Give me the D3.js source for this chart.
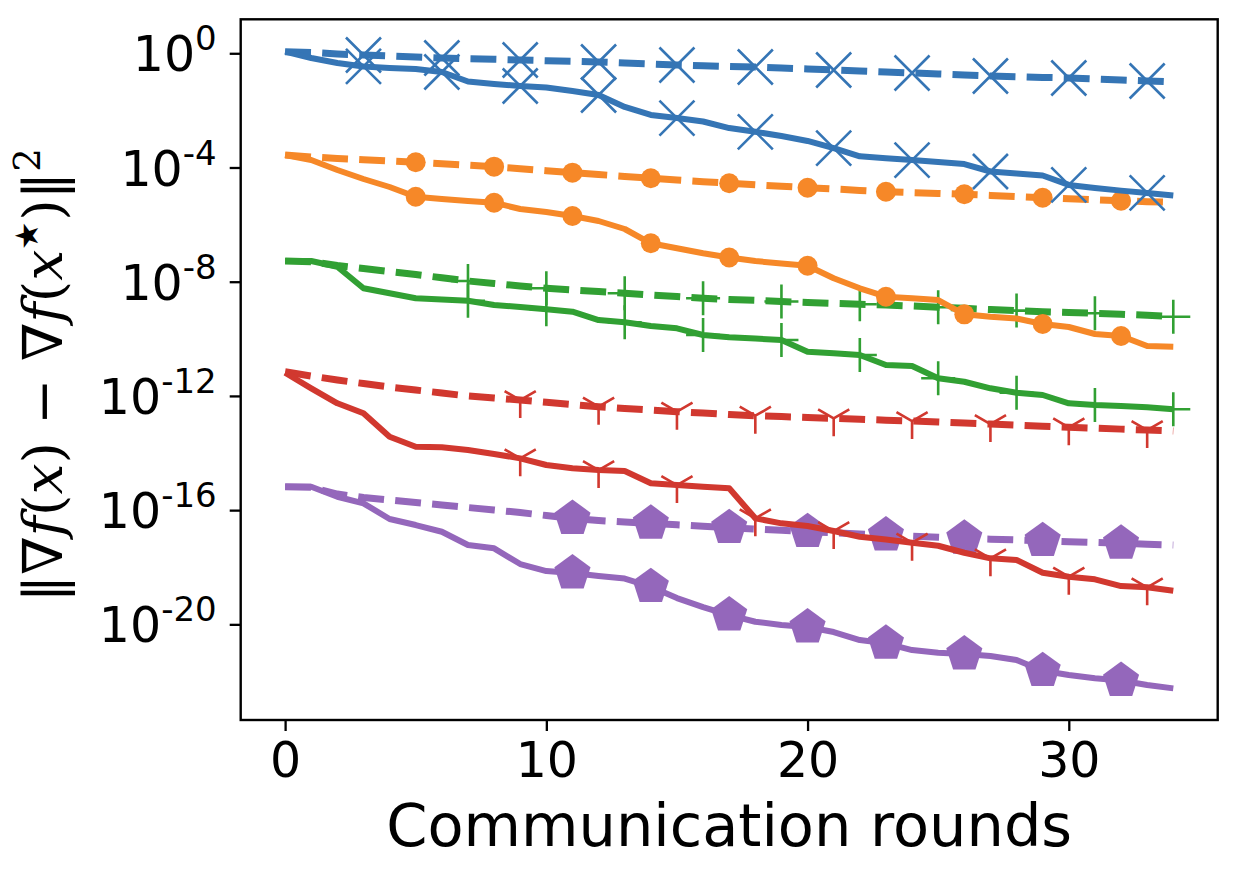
<!DOCTYPE html>
<html>
<head>
<meta charset="utf-8">
<script src="https://cdn.jsdelivr.net/npm/d3@7"></script>
<style>
  html, body { margin: 0; padding: 0; background: #fff; }
  svg { display: block; }
</style>
</head>
<body>
<svg id="chart" width="1246" height="872"></svg>
<script>
// x values: communication rounds
const rounds = d3.range(0, 35);

// log10 of ||grad f(x) - grad f(x*)||^2
const blueSolid = [0.056,-0.165,-0.34,-0.46,-0.515,-0.55,-0.655,-0.99,-1.075,-1.145,-1.2,-1.32,-1.46,-1.88,-2.16,-2.27,-2.39,-2.62,-2.75,-2.9,-3.07,-3.32,-3.61,-3.68,-3.74,-3.81,-3.88,-4.14,-4.21,-4.28,-4.61,-4.72,-4.81,-4.89,-4.98];
const blueDashed = [0.056,0.03,-0.025,-0.06,-0.095,-0.13,-0.165,-0.19,-0.21,-0.235,-0.26,-0.28,-0.305,-0.34,-0.375,-0.41,-0.435,-0.46,-0.48,-0.515,-0.55,-0.585,-0.62,-0.655,-0.69,-0.725,-0.76,-0.795,-0.82,-0.845,-0.865,-0.9,-0.935,-0.97,-1.005];
const orangeSolid = [-3.562,-3.737,-4.087,-4.403,-4.683,-5.023,-5.103,-5.173,-5.233,-5.453,-5.558,-5.699,-5.874,-6.154,-6.655,-6.83,-7.005,-7.152,-7.275,-7.363,-7.44,-7.881,-8.231,-8.525,-8.581,-8.641,-9.142,-9.226,-9.289,-9.482,-9.587,-9.832,-9.902,-10.252,-10.277];
const orangeDashed = [-3.562,-3.632,-3.685,-3.73,-3.772,-3.818,-3.87,-3.919,-3.972,-4.042,-4.112,-4.182,-4.245,-4.312,-4.378,-4.438,-4.497,-4.553,-4.606,-4.655,-4.708,-4.753,-4.802,-4.848,-4.879,-4.907,-4.939,-4.977,-5.019,-5.058,-5.093,-5.128,-5.163,-5.198,-5.219];
const greenSolid = [-7.275,-7.275,-7.475,-8.231,-8.406,-8.581,-8.623,-8.665,-8.816,-8.886,-8.967,-9.051,-9.342,-9.422,-9.552,-9.632,-9.867,-9.947,-9.989,-10.042,-10.452,-10.508,-10.567,-10.918,-10.953,-11.383,-11.503,-11.734,-11.888,-11.968,-12.259,-12.319,-12.354,-12.399,-12.469];
const greenDashed = [-7.275,-7.3,-7.433,-7.538,-7.643,-7.748,-7.863,-7.975,-8.063,-8.151,-8.231,-8.291,-8.347,-8.406,-8.466,-8.522,-8.581,-8.623,-8.655,-8.694,-8.729,-8.76,-8.788,-8.816,-8.851,-8.893,-8.932,-8.974,-9.012,-9.051,-9.079,-9.107,-9.139,-9.177,-9.226];
const redSolid = [-11.187,-11.734,-12.259,-12.609,-13.429,-13.779,-13.8,-13.895,-14.035,-14.186,-14.42,-14.536,-14.595,-14.63,-15.061,-15.121,-15.18,-15.236,-16.287,-16.462,-16.557,-16.732,-16.932,-17.03,-17.142,-17.247,-17.492,-17.688,-17.748,-18.193,-18.333,-18.424,-18.659,-18.704,-18.823];
const redDashed = [-11.152,-11.303,-11.443,-11.566,-11.688,-11.793,-11.898,-12.004,-12.074,-12.144,-12.224,-12.301,-12.378,-12.438,-12.494,-12.553,-12.599,-12.652,-12.694,-12.725,-12.757,-12.785,-12.816,-12.848,-12.879,-12.914,-12.949,-12.984,-13.023,-13.061,-13.1,-13.131,-13.163,-13.194,-13.229];
const purpleSolid = [-15.18,-15.18,-15.531,-15.762,-16.312,-16.522,-16.757,-17.222,-17.338,-17.888,-18.133,-18.203,-18.308,-18.396,-18.683,-19.079,-19.394,-19.674,-19.909,-20.025,-20.095,-20.27,-20.55,-20.666,-20.9,-20.995,-21.04,-21.11,-21.251,-21.625,-21.776,-21.891,-21.968,-22.126,-22.242];
const purpleDashed = [-15.18,-15.201,-15.436,-15.559,-15.646,-15.734,-15.821,-15.909,-15.996,-16.084,-16.189,-16.294,-16.364,-16.417,-16.462,-16.515,-16.564,-16.616,-16.662,-16.707,-16.756,-16.795,-16.833,-16.872,-16.91,-16.949,-16.988,-17.016,-17.044,-17.072,-17.103,-17.131,-17.163,-17.194,-17.222];

const xTicks = [0, 10, 20, 30];
const yTickExp = [0, -4, -8, -12, -16, -20];

// style for each method (marker every 3 rounds, starting at a different round)
const series = [
  {color: "#3575b5", solid: blueSolid, dashed: blueDashed, marker: "x", start: 3},
  {color: "#f68828", solid: orangeSolid, dashed: orangeDashed, marker: "o", start: 5},
  {color: "#31a033", solid: greenSolid, dashed: greenDashed, marker: "+", start: 7},
  {color: "#d1382f", solid: redSolid, dashed: redDashed, marker: "1", start: 9},
  {color: "#9467bb", solid: purpleSolid, dashed: purpleDashed, marker: "p", start: 11}
];

const margin = {top: 19.3, right: 28.3, bottom: 152, left: 240.7};
const W = 1246, H = 872;
const width = W - margin.left - margin.right,
      height = H - margin.top - margin.bottom;

const svg = d3.select("#chart");
const g = svg.append("g")
  .attr("transform", "translate(" + margin.left + "," + margin.top + ")");

const x = d3.scaleLinear().domain([-1.7, 35.7]).range([0, width]);
const y = d3.scaleLog().domain([Math.pow(10, -23.35), Math.pow(10, 1.19)]).range([height, 0]);

function markerPath(type) {
  if (type === "x") {
    const r = 17.5;
    return `M${-r},${-r}L${r},${r}M${-r},${r}L${r},${-r}`;
  }
  if (type === "+") {
    const r = 17;
    return `M${-r},0L${r},0M0,${-r}L0,${r}`;
  }
  if (type === "1") {
    const r = 18;
    return `M0,0L0,${r}M0,0L${-r * 0.866},${-r * 0.5}M0,0L${r * 0.866},${-r * 0.5}`;
  }
  if (type === "p") {
    const R = 19;
    const pts = d3.range(5).map(k => {
      const a = (-90 + 72 * k) * Math.PI / 180;
      return [R * Math.cos(a), R * Math.sin(a)];
    });
    return "M" + pts.map(p => p.join(",")).join("L") + "Z";
  }
  // circle
  return d3.symbol(d3.symbolCircle, Math.PI * 10 * 10)();
}

const line = d3.line()
  .x((d, i) => x(rounds[i]))
  .y(d => y(Math.pow(10, d)));

const plot = g.append("g");

function drawSeries(s, values, dashed) {
  const lw = dashed ? 7 : 6;
  plot.append("path")
    .datum(values)
    .attr("fill", "none")
    .attr("stroke", s.color)
    .attr("stroke-width", lw)
    .attr("stroke-linejoin", "round")
    .attr("stroke-dasharray", dashed ? (3.7 * lw) + "," + (1.6 * lw) : null)
    .attr("d", line);

  const idx = rounds.filter(r => r >= s.start && (r - s.start) % 3 === 0);
  const filled = s.marker === "o" || s.marker === "p";
  plot.selectAll(null)
    .data(idx)
    .enter()
    .append("path")
    .attr("transform", r => `translate(${x(r)},${y(Math.pow(10, values[r]))})`)
    .attr("d", markerPath(s.marker))
    .attr("fill", filled ? s.color : "none")
    .attr("stroke", filled ? "none" : s.color)
    .attr("stroke-width", 2.6);
}

// dashed curves go underneath the solid ones
series.forEach(s => drawSeries(s, s.dashed, true));
series.forEach(s => drawSeries(s, s.solid, false));

// axes
const xAxis = g.append("g")
  .attr("transform", "translate(0," + height + ")")
  .call(d3.axisBottom(x).tickValues(xTicks).tickSize(11).tickPadding(9).tickFormat(d3.format("d")));

const yAxis = g.append("g")
  .call(d3.axisLeft(y).tickValues(yTickExp.map(e => Math.pow(10, e))).tickSize(11).tickPadding(13).tickFormat(""));

[xAxis, yAxis].forEach(a => {
  a.select(".domain").remove();
  a.selectAll(".tick line").attr("stroke", "#000").attr("stroke-width", 2.3);
  a.selectAll(".tick text")
    .attr("font-family", "DejaVu Sans")
    .attr("font-size", 49)
    .attr("fill", "#000");
});
xAxis.selectAll(".tick text").attr("dy", "0.76em");

yAxis.selectAll(".tick").each(function (d, i) {
  const t = d3.select(this).select("text").attr("dy", "0.36em");
  t.append("tspan").text("10");
  t.append("tspan")
    .attr("font-size", 34)
    .attr("dy", "-0.62em")
    .text(yTickExp[i]);
});

// frame
g.append("rect")
  .attr("width", width)
  .attr("height", height)
  .attr("fill", "none")
  .attr("stroke", "#000")
  .attr("stroke-width", 2.4);

// x label
svg.append("text")
  .attr("x", margin.left + width / 2)
  .attr("y", 846)
  .attr("text-anchor", "middle")
  .attr("font-family", "DejaVu Sans")
  .attr("font-size", 59)
  .text("Communication rounds");

// y label
const yl = svg.append("text")
  .attr("transform", "translate(62," + (margin.top + 356) + ") rotate(-90)")
  .attr("text-anchor", "middle")
  .attr("font-family", "DejaVu Serif")
  .attr("font-size", 55);
const parts = [
  ["‖∇", "normal"], ["f", "italic"], ["(", "normal"], ["x", "italic"], [") − ∇", "normal"],
  ["f", "italic"], ["(", "normal"], ["x", "italic"]
];
parts.forEach(p => yl.append("tspan").attr("font-style", p[1]).text(p[0]));
yl.append("tspan").attr("font-size", 32).attr("dy", "-0.75em").text("★");
yl.append("tspan").attr("dy", "0.44em").text(")‖");
yl.append("tspan").attr("font-size", 37).attr("dy", "-0.6em").text("2");
</script>
</body>
</html>
